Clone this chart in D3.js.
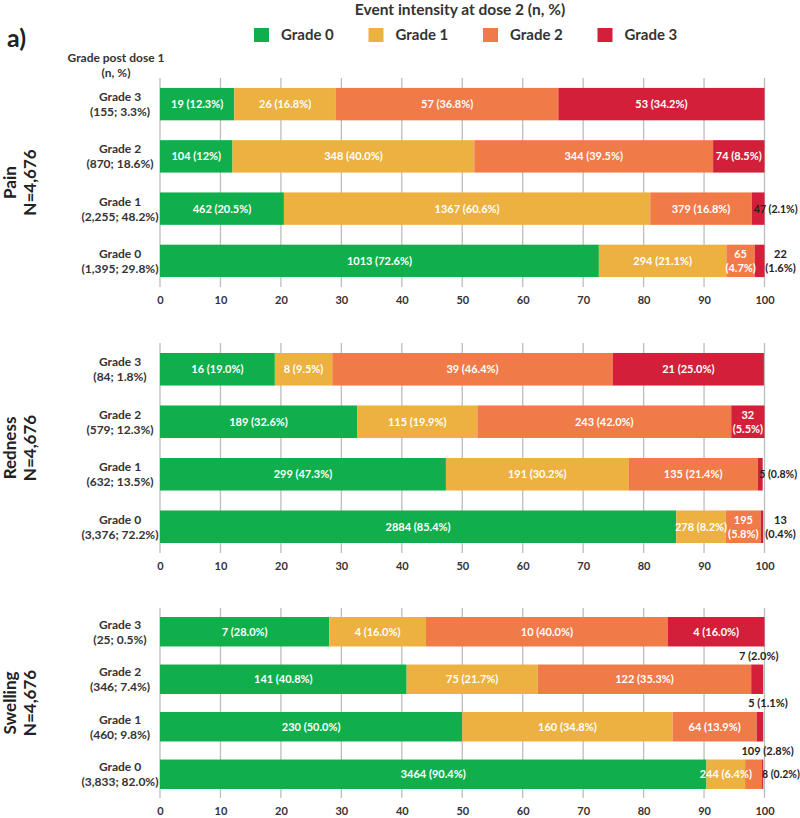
<!DOCTYPE html>
<html>
<head>
<meta charset="utf-8">
<script src="https://cdn.jsdelivr.net/npm/d3@7"></script>
<style>
  html, body { margin: 0; padding: 0; background: #fff; }
  svg text { font-family: Lato, "Open Sans", sans-serif; font-weight: 700; }
</style>
</head>
<body>
<svg id="chart" width="800" height="818"></svg>
<script>
// ---------- DATA ----------
const grades = ["Grade 0", "Grade 1", "Grade 2", "Grade 3"];          // series (dose 2 intensity)
const rowCategories = ["Grade 3", "Grade 2", "Grade 1", "Grade 0"];   // grade post dose 1
const panelNames = ["Pain", "Redness", "Swelling"];
const panelN = ["N=4,676", "N=4,676", "N=4,676"];

const painRowN = ["(155; 3.3%)", "(870; 18.6%)", "(2,255; 48.2%)", "(1,395; 29.8%)"];
const rednessRowN = ["(84; 1.8%)", "(579; 12.3%)", "(632; 13.5%)", "(3,376; 72.2%)"];
const swellingRowN = ["(25; 0.5%)", "(346; 7.4%)", "(460; 9.8%)", "(3,833; 82.0%)"];

const painCounts = [[19, 26, 57, 53], [104, 348, 344, 74], [462, 1367, 379, 47], [1013, 294, 65, 22]];
const painPct = [[12.3, 16.8, 36.8, 34.2], [12.0, 40.0, 39.5, 8.5], [20.5, 60.6, 16.8, 2.1], [72.6, 21.1, 4.7, 1.6]];

const rednessCounts = [[16, 8, 39, 21], [189, 115, 243, 32], [299, 191, 135, 5], [2884, 278, 195, 13]];
const rednessPct = [[19.0, 9.5, 46.4, 25.0], [32.6, 19.9, 42.0, 5.5], [47.3, 30.2, 21.4, 0.8], [85.4, 8.2, 5.8, 0.4]];

const swellingCounts = [[7, 4, 10, 4], [141, 75, 122, 7], [230, 160, 64, 5], [3464, 244, 109, 8]];
const swellingPct = [[28.0, 16.0, 40.0, 16.0], [40.8, 21.7, 35.3, 2.0], [50.0, 34.8, 13.9, 1.1], [90.4, 6.4, 2.8, 0.2]];

const xTicks = [0, 10, 20, 30, 40, 50, 60, 70, 80, 90, 100];

// ---------- STYLE / LAYOUT ----------
const colors = ["#10AF4C", "#ECB140", "#F07A48", "#D31F3A"];
const svg = d3.select("#chart");
const x = d3.scaleLinear().domain([0, 100]).range([160, 764.5]);
const color = d3.scaleOrdinal().domain(grades).range(colors);

const panelRanges = [[78, 287], [343, 553], [608, 798]];
const panelData = [
  { name: panelNames[0], n: panelN[0], rowN: painRowN, counts: painCounts, pct: painPct },
  { name: panelNames[1], n: panelN[1], rowN: rednessRowN, counts: rednessCounts, pct: rednessPct },
  { name: panelNames[2], n: panelN[2], rowN: swellingRowN, counts: swellingCounts, pct: swellingPct }
];

// label text overrides and placements (key: panel|row|series)
const textOverride = { "Pain|1|0": "104 (12%)" };
const placement = {
  "Pain|2|3": { mode: "inline", dx: 2 },
  "Pain|3|2": { mode: "two" },
  "Pain|3|3": { mode: "twoRight" },
  "Redness|1|3": { mode: "two" },
  "Redness|2|3": { mode: "inline", dx: 1.5 },
  "Redness|3|2": { mode: "two" },
  "Redness|3|3": { mode: "twoRight" },
  "Swelling|1|3": { mode: "above", dx: 1.5 },
  "Swelling|2|3": { mode: "above", dx: 8 },
  "Swelling|3|2": { mode: "above", dx: 14 },
  "Swelling|3|3": { mode: "inline", dx: 0 }
};

// ---------- HEADER ----------
svg.append("text").attr("x", 7).attr("y", 47).attr("font-size", 25).attr("fill", "#222").text("a)");
svg.append("text").attr("x", 460).attr("y", 15).attr("text-anchor", "middle")
  .attr("font-size", 15.5).attr("fill", "#333").text("Event intensity at dose 2 (n, %)");

const legend = svg.append("g");
grades.forEach((g, i) => {
  const lx = 254 + i * 114.5;
  legend.append("rect").attr("x", lx).attr("y", 28).attr("width", 15).attr("height", 14).attr("fill", color(g));
  legend.append("text").attr("x", lx + 27).attr("y", 40).attr("font-size", 15).attr("fill", "#333").text(g);
});

svg.append("text").attr("x", 116).attr("y", 62).attr("text-anchor", "middle").attr("font-size", 12)
  .attr("fill", "#333").text("Grade post dose 1");
svg.append("text").attr("x", 116).attr("y", 77).attr("text-anchor", "middle").attr("font-size", 12)
  .attr("fill", "#333").text("(n, %)");

// ---------- PANELS ----------
panelData.forEach((p, pi) => {
  const [y0, y1] = panelRanges[pi];
  const y = d3.scaleBand().domain(rowCategories).range([y0, y1]).paddingInner(0.38).paddingOuter(0.19);
  const g = svg.append("g");

  // gridlines
  g.append("g").selectAll("line").data(xTicks).join("line")
    .attr("x1", d => x(d)).attr("x2", d => x(d)).attr("y1", y0).attr("y2", y1)
    .attr("stroke", "#bdbdbd").attr("stroke-width", 1.3);

  // axis tick labels
  const axis = d3.axisBottom(x).tickValues(xTicks).tickSize(0).tickPadding(0).tickFormat(d3.format("d"));
  const ax = g.append("g").attr("transform", `translate(0,${y1 + 9})`).call(axis);
  ax.select(".domain").remove();
  ax.selectAll("text").attr("font-size", 11).attr("fill", "#333")
    .attr("font-family", "Lato, 'Open Sans', sans-serif").attr("font-weight", 700);

  // rows
  rowCategories.forEach((rc, ri) => {
    const yy = y(rc), bh = y.bandwidth(), cy = yy + bh / 2;
    let cum = 0;
    p.pct[ri].forEach((v, si) => {
      const x0 = cum, x1 = cum + v;
      cum = x1;
      const xe = Math.min(x1, 100);
      g.append("rect").attr("x", x(x0)).attr("y", yy).attr("width", Math.max(0, x(xe) - x(x0)))
        .attr("height", bh).attr("fill", color(grades[si]));
    });
    // labels
    cum = 0;
    p.pct[ri].forEach((v, si) => {
      const x0 = cum, x1 = Math.min(cum + v, 100);
      cum += v;
      const key = `${p.name}|${ri}|${si}`;
      const cnt = p.counts[ri][si];
      const pctTxt = `(${v.toFixed(1)}%)`;
      const full = textOverride[key] || `${cnt} ${pctTxt}`;
      const pl = placement[key] || { mode: "center" };
      const mid = (x(x0) + x(x1)) / 2;
      const t = g.append("text").attr("font-size", 11);
      if (pl.mode === "center") {
        t.attr("x", mid).attr("y", cy + 4).attr("text-anchor", "middle").attr("fill", "#fff").text(full);
      } else if (pl.mode === "two") {
        t.attr("text-anchor", "middle").attr("fill", "#fff");
        t.append("tspan").attr("x", mid).attr("y", cy - 3).text(cnt);
        t.append("tspan").attr("x", mid).attr("y", cy + 11).text(pctTxt);
      } else if (pl.mode === "twoRight") {
        t.attr("text-anchor", "middle").attr("fill", "#222");
        t.append("tspan").attr("x", x(100) + 16).attr("y", cy - 3).text(cnt);
        t.append("tspan").attr("x", x(100) + 16).attr("y", cy + 11).text(pctTxt);
      } else if (pl.mode === "inline") {
        t.attr("font-size", 10.5).attr("x", x(x0) + (pl.dx || 0)).attr("y", cy + 4)
          .attr("text-anchor", "start").attr("fill", "#222").text(full);
      } else if (pl.mode === "above") {
        t.attr("x", mid + (pl.dx || 0)).attr("y", yy - 5).attr("text-anchor", "middle").attr("fill", "#222").text(full);
      }
    });
    // row labels
    g.append("text").attr("x", 120).attr("y", cy - 3).attr("text-anchor", "middle")
      .attr("font-size", 12).attr("fill", "#333").text(rc);
    g.append("text").attr("x", 120).attr("y", cy + 12).attr("text-anchor", "middle")
      .attr("font-size", 12).attr("fill", "#333").text(p.rowN[ri]);
  });

  // panel title (rotated)
  const pc = (y(rowCategories[0]) + y(rowCategories[3]) + y.bandwidth()) / 2;
  g.append("text").attr("transform", `translate(16,${pc}) rotate(-90)`).attr("text-anchor", "middle")
    .attr("font-size", 17).attr("fill", "#222").text(p.name);
  g.append("text").attr("transform", `translate(36,${pc}) rotate(-90)`).attr("text-anchor", "middle")
    .attr("font-size", 17).attr("fill", "#222").text(p.n);
});
</script>
</body>
</html>
